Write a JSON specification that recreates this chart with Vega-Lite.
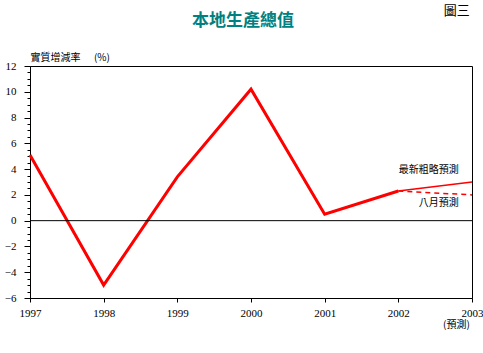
{
  "$schema": "https://vega.github.io/schema/vega-lite/v6.json",
  "autosize": "none",
  "width": 442,
  "height": 232,
  "padding": {"left": 30, "top": 66, "right": 11, "bottom": 55},
  "background": "white",
  "config": {
    "view": {"stroke": "black", "strokeWidth": 1},
    "font": "Liberation Serif"
  },
  "title": {
    "text": "本地生產總值",
    "font": "Noto Sans CJK TC",
    "fontSize": 17,
    "fontWeight": "bold",
    "color": "#008080",
    "anchor": "middle",
    "frame": "group",
    "baseline": "alphabetic",
    "offset": 0,
    "dx": -8,
    "dy": 38
  },
  "datasets": {
    "gdp": [
      {"year": 1997, "value": 5.1, "series": "actual"},
      {"year": 1998, "value": -5.0, "series": "actual"},
      {"year": 1999, "value": 3.4, "series": "actual"},
      {"year": 2000, "value": 10.2, "series": "actual"},
      {"year": 2001, "value": 0.5, "series": "actual"},
      {"year": 2002, "value": 2.3, "series": "actual"},
      {"year": 2002, "value": 2.3, "series": "latest"},
      {"year": 2003, "value": 3.0, "series": "latest"},
      {"year": 2002, "value": 2.3, "series": "august"},
      {"year": 2003, "value": 2.0, "series": "august"}
    ],
    "notes": [
      {"year": 2002.82, "value": 3.93, "label": "最新粗略預測", "size": 10},
      {"year": 2002.82, "value": 1.37, "label": "八月預測", "size": 10},
      {"year": 2002.97, "value": 16.3, "label": "圖三", "size": 13},
      {"year": 2002.97, "value": -8.1, "label": "(預測)", "size": 10}
    ]
  },
  "resolve": {"axis": {"y": "independent"}},
  "layer": [
    {
      "data": {"name": "gdp"},
      "transform": [{"filter": "datum.series === 'actual'"}],
      "mark": {"type": "line", "color": "#ff0000", "strokeWidth": 3},
      "encoding": {
        "x": {
          "field": "year", "type": "quantitative",
          "scale": {"domain": [1997, 2003], "nice": false, "zero": false},
          "axis": {
            "title": null,
            "values": [1997, 1998, 1999, 2000, 2001, 2002, 2003],
            "format": "d",
            "labelFont": "Liberation Serif",
            "labelFontSize": 11,
            "labelColor": "black",
            "labelPadding": 5,
            "tickSize": 4,
            "tickColor": "black",
            "domainColor": "black",
            "grid": false,
            "labelFlush": false,
            "labelOverlap": false
          }
        },
        "y": {
          "field": "value", "type": "quantitative",
          "scale": {"domain": [-6, 12], "nice": false},
          "axis": {
            "orient": "left",
            "title": "實質增減率\u00a0\u00a0\u00a0\u00a0\u00a0\u00a0(%)",
            "titleFont": "Noto Sans CJK TC",
            "titleFontSize": 10,
            "titleFontWeight": "normal",
            "titleColor": "black",
            "titleAngle": 0,
            "titleAlign": "left",
            "titleBaseline": "alphabetic",
            "titleX": 0,
            "titleY": -6,
            "values": [-6, -4, -2, 0, 2, 4, 6, 8, 10, 12],
            "format": "d",
            "labelFont": "Liberation Serif",
            "labelFontSize": 11,
            "labelColor": "black",
            "labelPadding": 8,
            "tickSize": 6,
            "tickColor": "black",
            "domainColor": "black",
            "grid": false,
            "labelFlush": false,
            "labelOverlap": false
          }
        }
      }
    },
    {
      "data": {"values": [{"value": 0}]},
      "mark": {"type": "rule", "color": "black", "strokeWidth": 1},
      "encoding": {
        "y": {
          "field": "value", "type": "quantitative",
          "axis": {
            "orient": "left",
            "title": null,
            "values": [-5.5, -5, -4.5, -3.5, -3, -2.5, -1.5, -1, -0.5, 0.5, 1, 1.5, 2.5, 3, 3.5, 4.5, 5, 5.5, 6.5, 7, 7.5, 8.5, 9, 9.5, 10.5, 11, 11.5],
            "labels": false,
            "domain": false,
            "tickSize": 3,
            "tickColor": "black",
            "grid": false
          }
        }
      }
    },
    {
      "data": {"name": "gdp"},
      "transform": [{"filter": "datum.series === 'latest'"}],
      "mark": {"type": "line", "color": "#ff0000", "strokeWidth": 1.5},
      "encoding": {
        "x": {"field": "year", "type": "quantitative"},
        "y": {"field": "value", "type": "quantitative", "axis": null}
      }
    },
    {
      "data": {"name": "gdp"},
      "transform": [{"filter": "datum.series === 'august'"}],
      "mark": {"type": "line", "color": "#ff0000", "strokeWidth": 1.5, "strokeDash": [5, 4]},
      "encoding": {
        "x": {"field": "year", "type": "quantitative"},
        "y": {"field": "value", "type": "quantitative", "axis": null}
      }
    },
    {
      "data": {"name": "notes"},
      "mark": {"type": "text", "align": "right", "baseline": "middle", "font": "Noto Sans CJK TC", "color": "black"},
      "encoding": {
        "x": {"field": "year", "type": "quantitative"},
        "y": {"field": "value", "type": "quantitative", "axis": null},
        "text": {"field": "label"},
        "size": {"field": "size", "type": "quantitative", "scale": null}
      }
    }
  ]
}
